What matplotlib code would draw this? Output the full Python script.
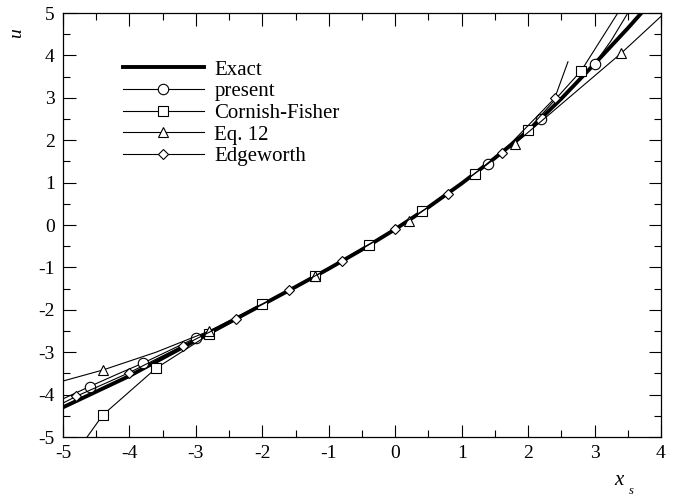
import matplotlib
matplotlib.use("Agg")
import matplotlib.pyplot as plt
from matplotlib.ticker import MultipleLocator

plt.rcParams['font.family'] = ['Liberation Serif', 'DejaVu Serif']

# exact curve
exact_x = [-5.0, -4.5, -4.0, -3.5, -3.0, -2.5, -2.0, -1.5, -1.0, -0.5, 0.0, 0.5, 1.0, 1.5, 2.0, 2.5, 3.0, 3.5, 3.75]
exact_y = [-4.30, -3.93, -3.56, -3.14, -2.72, -2.30, -1.88, -1.46, -1.03, -0.58, -0.10, 0.42, 0.98, 1.58, 2.22, 2.98, 3.80, 4.64, 5.08]

# present (circles)
pres_x = [-5.0, -4.6, -4.2, -3.8, -3.4, -3.0, -2.5, -2.0, -1.5, -1.0, -0.5, 0.0, 0.5, 1.0, 1.4, 1.8, 2.2, 2.6, 3.0, 3.25, 3.52]
pres_y = [-4.10, -3.81, -3.53, -3.26, -2.96, -2.66, -2.27, -1.87, -1.46, -1.03, -0.58, -0.10, 0.42, 0.98, 1.45, 1.95, 2.51, 3.12, 3.80, 4.35, 5.05]
pres_mk = [-4.6, -3.8, -3.0, 1.4, 2.2, 3.0]

# Cornish-Fisher (squares)
cf_x = [-4.66, -4.4, -3.6, -2.8, -2.0, -1.2, -0.4, 0.4, 1.2, 2.0, 2.8, 3.37]
cf_y = [-5.05, -4.48, -3.38, -2.58, -1.87, -1.20, -0.475, 0.32, 1.21, 2.25, 3.64, 5.05]
cf_mk = [-4.4, -3.6, -2.8, -2.0, -1.2, -0.4, 0.4, 1.2, 2.0, 2.8]

# Eq. 12 (triangles)
eq_x = [-5.0, -4.4, -3.6, -2.8, -2.0, -1.2, -0.5, 0.2, 1.0, 1.8, 2.2, 3.4, 4.0]
eq_y = [-3.68, -3.42, -3.00, -2.50, -1.86, -1.20, -0.55, 0.09, 0.98, 1.92, 2.45, 4.05, 4.92]
eq_mk = [-4.4, -2.8, -1.2, 0.2, 1.8, 3.4]

# Edgeworth (diamonds)
ew_x = [-5.0, -4.8, -4.0, -3.2, -2.4, -1.6, -0.8, 0.0, 0.8, 1.6, 2.4, 2.6]
ew_y = [-4.20, -4.04, -3.48, -2.85, -2.21, -1.54, -0.85, -0.09, 0.74, 1.70, 2.99, 3.85]
ew_mk = [-4.8, -4.0, -3.2, -2.4, -1.6, -0.8, 0.0, 0.8, 1.6, 2.4]

xticks = [-5, -4, -3, -2, -1, 0, 1, 2, 3, 4]
yticks = [-5, -4, -3, -2, -1, 0, 1, 2, 3, 4, 5]


def marks(xs, mk):
    return [i for i, v in enumerate(xs) if any(abs(v - m) < 1e-9 for m in mk)]


fig = plt.figure(figsize=(6.78, 5.0), dpi=100)
ax = fig.add_axes([63 / 678, 63 / 500, 598 / 678, 424 / 500])

ax.plot(exact_x, exact_y, color='black', lw=2.8, label='Exact', zorder=2)
ax.plot(pres_x, pres_y, color='black', lw=0.8, marker='o', ms=7.5, mfc='white',
        mec='black', mew=0.8, markevery=marks(pres_x, pres_mk), label='present', zorder=3)
ax.plot(cf_x, cf_y, color='black', lw=0.8, marker='s', ms=7, mfc='white',
        mec='black', mew=0.8, markevery=marks(cf_x, cf_mk), label='Cornish-Fisher', zorder=3)
ax.plot(eq_x, eq_y, color='black', lw=0.8, marker='^', ms=7, mfc='white',
        mec='black', mew=0.8, markevery=marks(eq_x, eq_mk), label='Eq. 12', zorder=3)
ax.plot(ew_x, ew_y, color='black', lw=0.8, marker='D', ms=5.5, mfc='white',
        mec='black', mew=0.8, markevery=marks(ew_x, ew_mk), label='Edgeworth', zorder=3)

ax.set_xlim(-5, 4)
ax.set_ylim(-5, 5)
ax.set_xticks(xticks)
ax.set_yticks(yticks)
ax.set_xticklabels([str(t) for t in xticks])
ax.set_yticklabels([str(t) for t in yticks])
ax.xaxis.set_minor_locator(MultipleLocator(0.5))
ax.yaxis.set_minor_locator(MultipleLocator(0.5))
ax.tick_params(which='both', direction='in', top=True, right=True, labelsize=14, width=0.8)
ax.tick_params(which='major', length=9, pad=6)
ax.tick_params(which='minor', length=5)
for s in ax.spines.values():
    s.set_linewidth(0.9)

# axis labels
ax.text(-0.077, 0.953, 'u', transform=ax.transAxes, rotation=90, fontsize=14,
        style='italic', ha='center', va='center')
ax.text(0.929, -0.103, 'x', transform=ax.transAxes, fontsize=15,
        style='italic', ha='center', va='center')
ax.text(0.950, -0.128, 's', transform=ax.transAxes, fontsize=9,
        style='italic', ha='center', va='center')

ax.legend(loc='upper left', bbox_to_anchor=(0.1, 0.889), frameon=False, fontsize=15,
          handlelength=3.9, handletextpad=0.5, labelspacing=0.1, borderpad=0,
          borderaxespad=0)

fig.savefig('out.png', dpi=100)
